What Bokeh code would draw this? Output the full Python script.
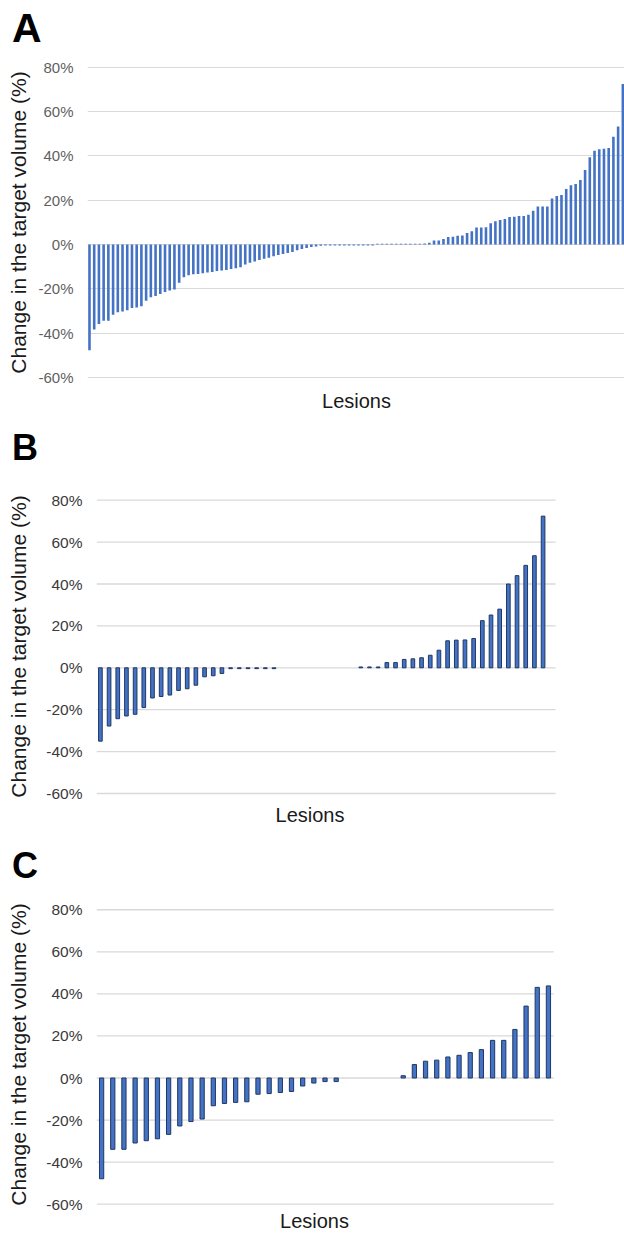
from bokeh.plotting import figure
from bokeh.models import ColumnDataSource, FixedTicker, Range1d, LinearAxis, Div
from bokeh.layouts import column
from bokeh.embed import file_html
from bokeh.resources import INLINE

# ---------------- data (change in target volume, %) ----------------
# Panel A: all lesions, sorted
a_values = [
    -47.6, -38.3, -35.8, -34.3, -34.3, -31.6, -30.5, -30.1, -29.6, -28.6,
    -28.3, -27.8, -25.3, -23.7, -23.2, -22.2, -21.4, -20.7, -20.2, -17.2,
    -14.7, -13.8, -13.3, -13.2, -12.9, -12.6, -12.3, -11.9,
    -11.7, -11.4, -11.0, -10.6, -10.2, -9.0, -8.2, -7.6, -6.9, -6.4,
    -5.9, -5.3, -4.7, -4.2, -3.8, -3.3, -2.6, -2.0, -1.5, -1.1, -0.8, -0.5, -0.4,
    -0.4, -0.4, -0.4, -0.4, -0.4, -0.4, -0.4, -0.4, -0.4, -0.4,
    0.4, 0.4, 0.4, 0.4, 0.4, 0.4, 0.4, 0.4, 0.4, 0.4,
    0.5, 0.8, 1.8, 1.8, 2.5, 3.4, 3.5, 4.0, 4.1, 5.2,
    6.0, 7.7, 7.7, 7.8, 9.6, 10.5, 11.1, 11.5, 12.4, 12.6,
    12.9, 12.9, 13.5, 15.3, 17.2, 17.2, 17.2, 20.8, 21.9, 22.3,
    25.0, 26.7, 27.3, 29.1, 33.6, 39.3, 42.3, 43.0, 43.2, 43.5,
    48.6, 53.2, 72.3,
]
# Panel B (0.0 = stable lesion, no bar drawn)
b_values = [
    -35.0, -27.8, -24.3, -23.0, -22.2, -19.0, -14.4, -13.7, -13.0, -10.8,
    -10.0, -8.3, -4.3, -3.8, -2.7, -0.4, -0.4, -0.4, -0.4, -0.4, -0.4,
    0.0, 0.0, 0.0, 0.0, 0.0, 0.0, 0.0, 0.0, 0.0,
    0.4, 0.4, 0.4,
    2.5, 2.5, 4.0, 4.3, 4.8, 6.0, 8.4, 12.9, 13.2, 13.3,
    14.0, 22.5, 25.2, 28.0, 40.0, 44.0, 48.9, 53.5, 72.4,
]
# Panel C
c_values = [
    -47.9, -33.9, -33.9, -30.9, -29.8, -28.9, -26.8, -22.8, -20.7, -19.5,
    -13.2, -12.1, -11.6, -11.3, -7.7, -7.4, -6.9, -6.4, -3.8, -2.4, -1.7, -1.7,
    0.0, 0.0, 0.0, 0.0, 0.0,
    1.1, 6.4, 8.0, 8.5, 10.0, 10.8, 12.1, 13.5, 17.9, 17.9, 23.1, 34.2, 43.1, 43.8,
]
y_ticks = [-60, -40, -20, 0, 20, 40, 60, 80]
y_tick_labels = ["-60%", "-40%", "-20%", "0%", "20%", "40%", "60%", "80%"]
panel_letters = ["A", "B", "C"]
y_title = "Change in the target volume (%)"
x_title = "Lesions"

FONT = "Liberation Sans"
W = 624
BORDER_L = 87


def letter_div(letter, height, pad_top, size):
    html = (f'<div style="margin:0; padding:{pad_top}px 0 0 12px; '
            f"font-family:'{FONT}', Arial, sans-serif; font-weight:bold; "
            f'font-size:{size}px; line-height:{size}px; color:#000;">{letter}</div>')
    return Div(text=html, width=W, height=height, margin=(0, 0, 0, 0))


def panel(values, height, mtop, mbot, xr, yr, bar_w, fill, line,
          grid_span, grid_w, tick_color, tick_size, tick_standoff,
          title_size, title_standoff, lesions_x, lesions_standoff, lesions_size):
    p = figure(width=W, height=height, output_backend="svg", toolbar_location=None,
               title=None, x_axis_type=None, x_range=Range1d(*xr), y_range=Range1d(*yr),
               min_border_left=BORDER_L, min_border_right=0,
               min_border_top=mtop, min_border_bottom=mbot)
    p.outline_line_color = None
    p.background_fill_color = "white"

    # horizontal gridlines
    p.ygrid.ticker = FixedTicker(ticks=y_ticks)
    p.ygrid.grid_line_color = "#d9d9d9"
    p.ygrid.grid_line_width = grid_w
    if grid_span is not None:
        p.ygrid.visible = False
        p.segment(x0=[grid_span[0]] * len(y_ticks), x1=[grid_span[1]] * len(y_ticks),
                  y0=y_ticks, y1=y_ticks, line_color="#d9d9d9", line_width=grid_w)

    xs = [i for i, v in enumerate(values) if v != 0.0]
    tops = [v for v in values if v != 0.0]
    src = ColumnDataSource(dict(x=xs, top=tops))
    p.vbar(x="x", top="top", bottom=0, width=bar_w, source=src,
           fill_color=fill, line_color=line, line_width=1 if line else 0)

    ax = p.yaxis[0]
    ax.ticker = FixedTicker(ticks=y_ticks)
    ax.major_label_overrides = {t: l for t, l in zip(y_ticks, y_tick_labels)}
    ax.axis_line_color = None
    ax.major_tick_line_color = None
    ax.minor_tick_line_color = None
    ax.major_tick_in = 0
    ax.major_tick_out = 0
    ax.major_label_standoff = tick_standoff
    ax.major_label_text_font = FONT
    ax.major_label_text_font_size = f"{tick_size}px"
    ax.major_label_text_color = tick_color
    ax.axis_label = y_title
    ax.axis_label_text_font = FONT
    ax.axis_label_text_font_size = f"{title_size}px"
    ax.axis_label_text_font_style = "normal"
    ax.axis_label_text_color = "#1a1a1a"
    ax.axis_label_standoff = title_standoff

    # x axis: a single label "Lesions" placed under the bars
    xa = LinearAxis(ticker=FixedTicker(ticks=[lesions_x]))
    xa.major_label_overrides = {lesions_x: x_title}
    xa.axis_line_color = None
    xa.major_tick_line_color = None
    xa.minor_tick_line_color = None
    xa.major_tick_in = 0
    xa.major_tick_out = 0
    xa.major_label_standoff = lesions_standoff
    xa.major_label_text_font = FONT
    xa.major_label_text_font_size = f"{lesions_size}px"
    xa.major_label_text_color = "#1a1a1a"
    p.add_layout(xa, "below")
    return p


# page y: divA 0..50 | pA 50..414 (frame 58..386)
dA = letter_div(panel_letters[0], 50, 8, 41)
pA = panel(a_values, 364, 8, 28,
           (-0.42, 113.35), (-63.92, 83.83), 0.55, "#4472c4", None,
           None, 1, "#5f5f5f", 15, 14, 21, 5,
           56.57, 3, 20)
# divB 414..466 | pB 466..832 (frame 492..800)
dB = letter_div(panel_letters[1], 52, 16, 36)
pB = panel(b_values, 366, 26, 32,
           (-1.486, 60.38), (-63.34, 83.68), 0.42, "#4472c4", "#1f3864",
           (-0.415, 52.44), 1.3, "#3a3a3a", 15.5, 5, 21, 13,
           24.15, 3, 20)
# divC 832..884 | pC 884..1234 (frame 902..1208)
dC = letter_div(panel_letters[2], 52, 16, 36)
pC = panel(c_values, 350, 18, 26,
           (-1.262, 46.81), (-61.09, 83.45), 0.38, "#4472c4", "#1f3864",
           (-0.43, 40.47), 1.3, "#3a3a3a", 15.5, 5, 21, 13,
           19.06, 3, 20)

layout = column(dA, pA, dB, pB, dC, pC, spacing=0)
open("out.html", "w").write(file_html(layout, INLINE))
